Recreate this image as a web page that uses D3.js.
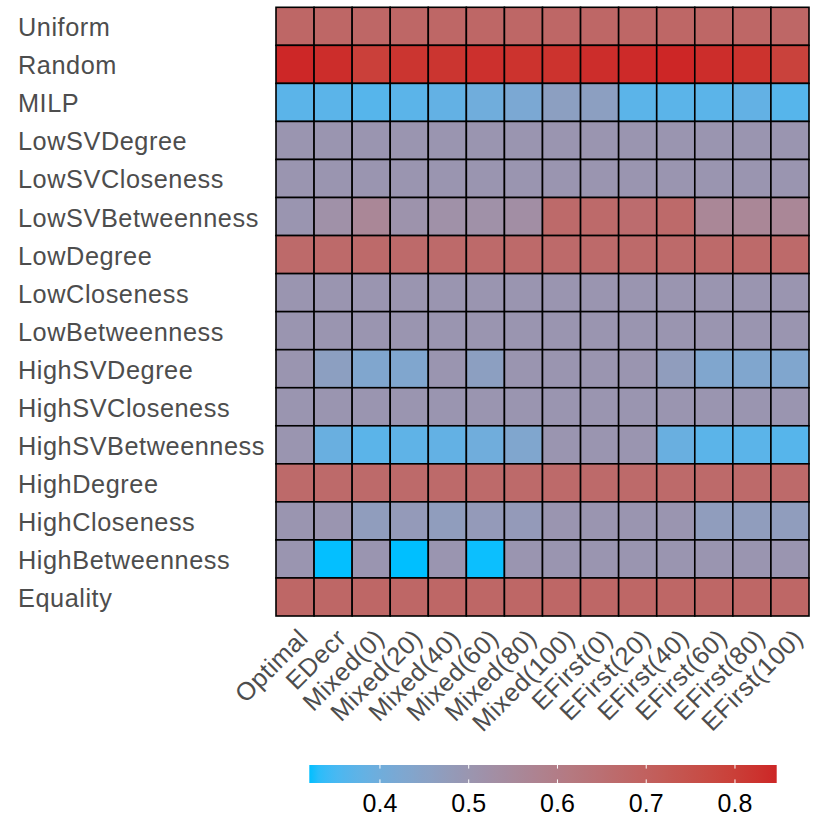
<!DOCTYPE html>
<html>
<head>
<meta charset="utf-8">
<script src="https://cdn.jsdelivr.net/npm/d3@7"></script>
<style>
  html, body { margin: 0; padding: 0; background: #fff; }
  svg { display: block; font-family: "Liberation Sans", Arial, sans-serif; }
</style>
</head>
<body>
<svg id="chart" width="830" height="830"></svg>
<script>
const rows = ["Uniform","Random","MILP","LowSVDegree","LowSVCloseness","LowSVBetweenness","LowDegree","LowCloseness","LowBetweenness","HighSVDegree","HighSVCloseness","HighSVBetweenness","HighDegree","HighCloseness","HighBetweenness","Equality"];
const cols = ["Optimal","EDecr","Mixed(0)","Mixed(20)","Mixed(40)","Mixed(60)","Mixed(80)","Mixed(100)","EFirst(0)","EFirst(20)","EFirst(40)","EFirst(60)","EFirst(80)","EFirst(100)"];

const vUniform           = [0.68,0.68,0.68,0.68,0.68,0.68,0.68,0.68,0.68,0.68,0.68,0.68,0.68,0.68];
const vRandom            = [0.845,0.835,0.795,0.82,0.82,0.83,0.825,0.825,0.835,0.84,0.847,0.835,0.825,0.79];
const vMILP              = [0.37,0.37,0.365,0.37,0.38,0.40,0.42,0.46,0.46,0.37,0.37,0.37,0.38,0.365];
const vLowSVDegree       = [0.50,0.50,0.50,0.50,0.50,0.50,0.50,0.50,0.50,0.50,0.50,0.50,0.50,0.50];
const vLowSVCloseness    = [0.50,0.50,0.50,0.50,0.50,0.50,0.50,0.50,0.50,0.50,0.50,0.50,0.50,0.50];
const vLowSVBetweenness  = [0.50,0.52,0.56,0.51,0.52,0.52,0.53,0.67,0.67,0.66,0.67,0.56,0.56,0.56];
const vLowDegree         = [0.67,0.67,0.67,0.67,0.67,0.67,0.67,0.67,0.67,0.67,0.67,0.67,0.67,0.67];
const vLowCloseness      = [0.50,0.50,0.50,0.50,0.50,0.50,0.50,0.50,0.50,0.50,0.50,0.50,0.50,0.50];
const vLowBetweenness    = [0.50,0.50,0.50,0.50,0.50,0.50,0.50,0.50,0.50,0.50,0.50,0.50,0.50,0.50];
const vHighSVDegree      = [0.50,0.46,0.43,0.43,0.50,0.46,0.50,0.50,0.50,0.50,0.47,0.43,0.43,0.43];
const vHighSVCloseness   = [0.50,0.50,0.50,0.50,0.50,0.50,0.50,0.50,0.50,0.50,0.50,0.50,0.50,0.50];
const vHighSVBetweenness = [0.50,0.39,0.37,0.375,0.38,0.40,0.43,0.50,0.50,0.50,0.39,0.37,0.37,0.365];
const vHighDegree        = [0.67,0.67,0.67,0.67,0.67,0.67,0.67,0.67,0.67,0.67,0.67,0.67,0.67,0.67];
const vHighCloseness     = [0.50,0.50,0.47,0.48,0.47,0.48,0.48,0.50,0.50,0.50,0.50,0.47,0.47,0.47];
const vHighBetweenness   = [0.50,0.321,0.50,0.3204,0.50,0.322,0.50,0.50,0.50,0.50,0.50,0.50,0.50,0.50];
const vEquality          = [0.68,0.68,0.68,0.68,0.68,0.68,0.68,0.68,0.68,0.68,0.68,0.68,0.68,0.68];

const legendTicks = [0.4, 0.5, 0.6, 0.7, 0.8];

const values = [vUniform, vRandom, vMILP, vLowSVDegree, vLowSVCloseness, vLowSVBetweenness, vLowDegree,
  vLowCloseness, vLowBetweenness, vHighSVDegree, vHighSVCloseness, vHighSVBetweenness, vHighDegree,
  vHighCloseness, vHighBetweenness, vEquality];

const cells = [];
rows.forEach((r, i) => cols.forEach((c, j) => cells.push({ row: r, col: c, value: values[i][j] })));

const vmin = d3.min(cells, d => d.value);
const vmax = d3.max(cells, d => d.value);

const color = d3.scaleLinear()
  .domain([vmin, vmax])
  .range(["#00BFFF", "#CD2626"])
  .interpolate(d3.interpolateLab);

const svg = d3.select("#chart");

const x = d3.scaleBand().domain(cols).range([276, 809]);
const y = d3.scaleBand().domain(rows).range([7.3, 616]);

svg.append("g").selectAll("rect")
  .data(cells)
  .join("rect")
  .attr("x", d => x(d.col))
  .attr("y", d => y(d.row))
  .attr("width", x.bandwidth())
  .attr("height", y.bandwidth())
  .attr("fill", d => color(d.value))
  .attr("stroke", "#000")
  .attr("stroke-width", 1.6);

// y labels
svg.append("g").selectAll("text")
  .data(rows)
  .join("text")
  .attr("x", 18)
  .attr("y", d => y(d) + y.bandwidth() / 2 + 1)
  .attr("dominant-baseline", "central")
  .attr("font-size", 25.3)
  .attr("letter-spacing", 0.55)
  .attr("fill", "#4D4D4D")
  .text(d => d);

// x labels
svg.append("g").selectAll("text")
  .data(cols)
  .join("text")
  .attr("transform", d => `translate(${x(d) + x.bandwidth() / 2 + 2},${627}) rotate(-45)`)
  .attr("text-anchor", "end")
  .attr("dy", "0.71em")
  .attr("font-size", 25.3)
  .attr("letter-spacing", 0.55)
  .attr("fill", "#4D4D4D")
  .text(d => d);

// legend
const lx = d3.scaleLinear().domain([vmin, vmax]).range([309.3, 776.7]);
const defs = svg.append("defs");
const grad = defs.append("linearGradient").attr("id", "lg").attr("x1", "0%").attr("x2", "100%");
d3.range(0, 1.0001, 0.02).forEach(t => {
  grad.append("stop").attr("offset", (t * 100) + "%").attr("stop-color", color(vmin + t * (vmax - vmin)));
});
const ly0 = 765, ly1 = 783;
svg.append("rect")
  .attr("x", lx(vmin)).attr("y", ly0)
  .attr("width", lx(vmax) - lx(vmin)).attr("height", ly1 - ly0)
  .attr("fill", "url(#lg)");
const lt = svg.append("g");
lt.selectAll("line.t1").data(legendTicks).join("line")
  .attr("x1", d => lx(d)).attr("x2", d => lx(d))
  .attr("y1", ly0).attr("y2", ly0 + 3.6)
  .attr("stroke", "#fff").attr("stroke-width", 1);
lt.selectAll("line.t2").data(legendTicks).join("line")
  .attr("x1", d => lx(d)).attr("x2", d => lx(d))
  .attr("y1", ly1 - 3.6).attr("y2", ly1)
  .attr("stroke", "#fff").attr("stroke-width", 1);
lt.selectAll("text").data(legendTicks).join("text")
  .attr("x", d => lx(d)).attr("y", 812)
  .attr("text-anchor", "middle")
  .attr("font-size", 25)
  .attr("fill", "#000")
  .text(d => d3.format(".1f")(d));
</script>
</body>
</html>
